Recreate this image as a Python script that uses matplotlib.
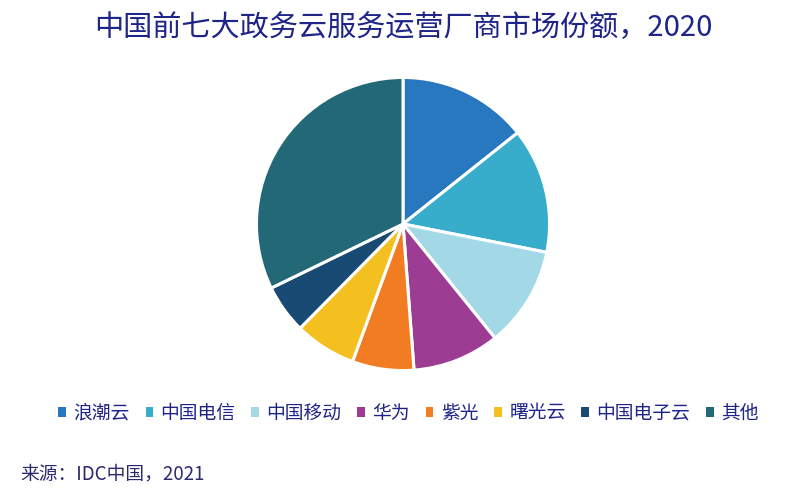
import matplotlib
matplotlib.use("Agg")
import matplotlib.pyplot as plt
from matplotlib.patches import Patch

plt.rcParams['font.family'] = ['Noto Sans CJK SC', 'DejaVu Sans']

vendors = ["浪潮云", "中国电信", "中国移动", "华为", "紫光", "曙光云", "中国电子云", "其他"]
shares = [14.3, 13.8, 11.1, 9.6, 6.8, 6.8, 5.4, 32.2]
colors = ["#2778BE", "#37ACCB", "#A3D9E6", "#9C3C92", "#F17C22", "#F4C01F", "#184A73", "#236877"]

fig = plt.figure(figsize=(8.07, 4.93), dpi=100)
ax = fig.add_axes([(403 - 148) / 807, (493 - 224 - 148) / 493, 296 / 807, 296 / 493])
ax.pie(shares, colors=colors, startangle=90, counterclock=False, radius=1,
       wedgeprops=dict(edgecolor="white", linewidth=2.2))
ax.set_xlim(-1.01, 1.01)
ax.set_ylim(-1.01, 1.01)
ax.set_aspect("equal")

fig.text(0.5, 1 - 28 / 493, "中国前七大政务云服务运营厂商市场份额，2020",
         ha="center", va="center", fontsize=21, color="#1F2488")

handles = [Patch(facecolor=c, edgecolor="none") for c in colors]
fig.legend(handles, vendors, loc="center", bbox_to_anchor=(0.5 + 5 / 807, 1 - 413 / 493),
           ncol=8, frameon=False, fontsize=13.5, handlelength=0.4, handleheight=0.4,
           handletextpad=0.4, columnspacing=0.85, labelcolor="#1F2488")

fig.text(20 / 807, 1 - 474 / 493, "来源：IDC中国，2021", ha="left", va="center",
         fontsize=13.5, color="#2A2A70")

fig.savefig("out.png", dpi=100, facecolor="white")
